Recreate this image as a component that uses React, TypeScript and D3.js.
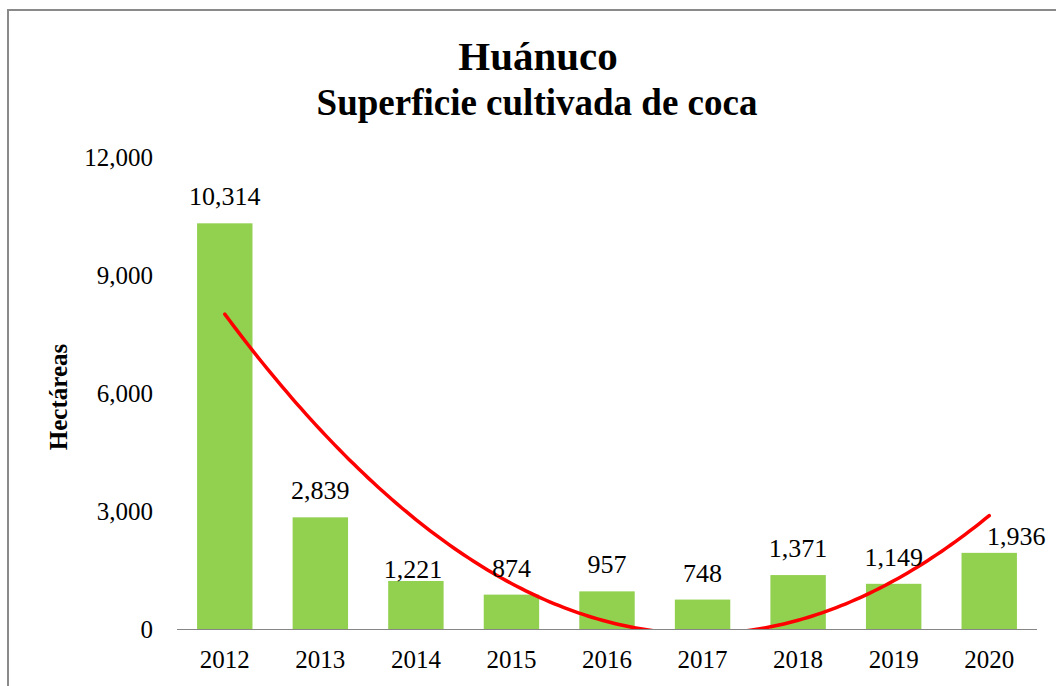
import React, { useEffect, useRef } from 'react';
import * as d3 from 'd3';

const years = ['2012', '2013', '2014', '2015', '2016', '2017', '2018', '2019', '2020'];
const hectares = [10314, 2839, 1221, 874, 957, 748, 1371, 1149, 1936];
const yTicks = [0, 3000, 6000, 9000, 12000];

const title = 'Huánuco';
const subtitle = 'Superficie cultivada de coca';
const yTitle = 'Hectáreas';

// manual nudges for a couple of labels (as in the original sheet)
const labelNudge: Record<string, { dx: number; dy: number }> = {
  '2014': { dx: -3, dy: 15 },
  '2020': { dx: 27, dy: 10 },
};

// least squares fit of order 2 (Excel "polynomial" trendline)
function polyFit2(ys: number[]) {
  const n = ys.length;
  let s1 = 0, s2 = 0, s3 = 0, s4 = 0, t0 = 0, t1 = 0, t2 = 0;
  ys.forEach((y, x) => {
    s1 += x; s2 += x * x; s3 += x ** 3; s4 += x ** 4;
    t0 += y; t1 += x * y; t2 += x * x * y;
  });
  // solve [n s1 s2; s1 s2 s3; s2 s3 s4] [c b a] = [t0 t1 t2]
  const m = [
    [n, s1, s2, t0],
    [s1, s2, s3, t1],
    [s2, s3, s4, t2],
  ];
  for (let i = 0; i < 3; i++) {
    for (let k = i + 1; k < 3; k++) {
      const f = m[k][i] / m[i][i];
      for (let j = i; j < 4; j++) m[k][j] -= f * m[i][j];
    }
  }
  const r = [0, 0, 0];
  for (let i = 2; i >= 0; i--) {
    let s = m[i][3];
    for (let j = i + 1; j < 3; j++) s -= m[i][j] * r[j];
    r[i] = s / m[i][i];
  }
  return (x: number) => r[0] + r[1] * x + r[2] * x * x;
}

const App = () => {
  const ref = useRef<SVGSVGElement>(null);

  useEffect(() => {
    const svg = d3.select(ref.current);
    svg.selectAll('*').remove();

    const left = 177, right = 1037, top = 157, bottom = 629;
    const font = '"Liberation Serif", "Times New Roman", serif';

    const x = d3.scaleBand().domain(years).range([left, right]).paddingInner(0.42).paddingOuter(0.21);
    const y = d3.scaleLinear().domain([0, 12000]).range([bottom, top]);

    // outer chart border
    svg.append('rect')
      .attr('x', 8).attr('y', 10)
      .attr('width', 1200).attr('height', 800)
      .attr('fill', 'white')
      .attr('stroke', '#8a8a8a')
      .attr('stroke-width', 2);

    svg.append('text')
      .attr('x', 538).attr('y', 70)
      .attr('text-anchor', 'middle')
      .style('font-family', font).style('font-weight', 'bold').style('font-size', '41px')
      .text(title);

    svg.append('text')
      .attr('x', 537).attr('y', 115)
      .attr('text-anchor', 'middle')
      .style('font-family', font).style('font-weight', 'bold').style('font-size', '37px')
      .text(subtitle);

    svg.append('text')
      .attr('transform', `translate(67, ${(top + bottom) / 2 + 4}) rotate(-90)`)
      .attr('text-anchor', 'middle')
      .style('font-family', font).style('font-weight', 'bold').style('font-size', '25px')
      .text(yTitle);

    // y tick labels (no axis line, no gridlines)
    svg.append('g')
      .selectAll('text')
      .data(yTicks)
      .enter()
      .append('text')
      .attr('x', 153)
      .attr('y', d => y(d))
      .attr('dy', '0.35em')
      .attr('text-anchor', 'end')
      .style('font-family', font).style('font-size', '25px')
      .text(d => d3.format(',')(d));

    // bars
    svg.append('g')
      .selectAll('rect')
      .data(hectares)
      .enter()
      .append('rect')
      .attr('x', (d, i) => x(years[i])!)
      .attr('y', d => y(d))
      .attr('width', x.bandwidth())
      .attr('height', d => bottom - y(d))
      .attr('fill', '#92d050');

    // baseline
    svg.append('line')
      .attr('x1', left).attr('x2', right)
      .attr('y1', bottom + 0.5).attr('y2', bottom + 0.5)
      .attr('stroke', '#868686').attr('stroke-width', 1);

    // x labels
    svg.append('g')
      .selectAll('text')
      .data(years)
      .enter()
      .append('text')
      .attr('x', d => x(d)! + x.bandwidth() / 2)
      .attr('y', 668)
      .attr('text-anchor', 'middle')
      .style('font-family', font).style('font-size', '25px')
      .text(d => d);

    // trendline, clipped to the plot area
    svg.append('clipPath').attr('id', 'plotClip')
      .append('rect')
      .attr('x', left).attr('y', top - 20)
      .attr('width', right - left).attr('height', bottom - top + 20);

    const fit = polyFit2(hectares);
    const pos = d3.scalePoint().domain(years).range([x(years[0])! + x.bandwidth() / 2, x(years[years.length - 1])! + x.bandwidth() / 2]);
    const samples = d3.range(0, years.length - 1 + 1e-9, 0.05);
    const line = d3.line<number>()
      .x(t => pos(years[0])! + t * pos.step())
      .y(t => y(fit(t)))
      .curve(d3.curveLinear);

    svg.append('path')
      .datum(samples)
      .attr('clip-path', 'url(#plotClip)')
      .attr('d', line)
      .attr('fill', 'none')
      .attr('stroke', '#ff0000')
      .attr('stroke-width', 3.5)
      .attr('stroke-linecap', 'round');

    // data labels
    svg.append('g')
      .selectAll('text')
      .data(hectares)
      .enter()
      .append('text')
      .attr('x', (d, i) => x(years[i])! + x.bandwidth() / 2 + (labelNudge[years[i]]?.dx ?? 0))
      .attr('y', (d, i) => y(d) - 18 + (labelNudge[years[i]]?.dy ?? 0))
      .attr('text-anchor', 'middle')
      .style('font-family', font).style('font-size', '26px')
      .text(d => d3.format(',')(d));
  }, []);

  return (
    <svg
      ref={ref}
      width={1056}
      height={686}
      style={{ position: 'absolute', left: 0, top: 0, background: 'white' }}
    />
  );
};

export default App;
